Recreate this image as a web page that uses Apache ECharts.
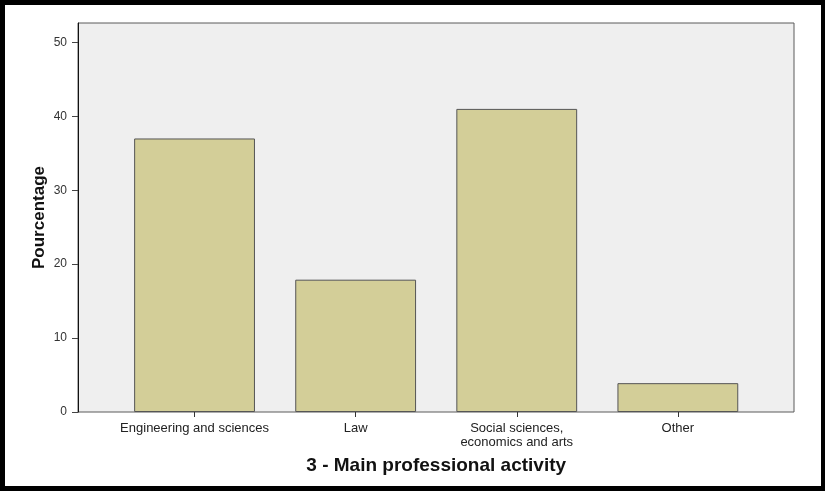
<!DOCTYPE html>
<html>
<head>
<meta charset="utf-8">
<script src="https://cdn.jsdelivr.net/npm/echarts@6/dist/echarts.min.js"></script>
<style>
html,body{margin:0;padding:0;background:#fff;}
#chart{width:825px;height:491px;}
</style>
</head>
<body>
<div id="chart"></div>
<script>
const categories = ['Engineering and sciences', 'Law', 'Social sciences,\neconomics and arts', 'Other'];
const values = [37, 17.9, 41, 3.9];
const yTicks = [0, 10, 20, 30, 40, 50];
const yMax = 52.62;
const xTitle = '3 - Main professional activity';
const yTitle = 'Pourcentage';

const chart = echarts.init(document.getElementById('chart'), null, {renderer: 'canvas'});
const font = '"Liberation Sans", Arial, sans-serif';
chart.setOption({
  animation: false,
  backgroundColor: '#ffffff',
  textStyle: {fontFamily: font},
  graphic: [{
    type: 'rect',
    shape: {x: 2.5, y: 2.5, width: 821, height: 486},
    style: {fill: 'none', stroke: '#000', lineWidth: 5},
    silent: true
  }],
  grid: [
    {left: 78, right: 31, top: 23, bottom: 79, show: true, backgroundColor: '#efefef', borderColor: '#5a5a5a', borderWidth: 1},
    {left: 114, right: 66.6, top: 23, bottom: 79}
  ],
  xAxis: [
    {gridIndex: 0, type: 'value', min: 0, max: 1, show: false},
    {
      gridIndex: 1, type: 'category', data: categories,
      axisLine: {show: false},
      axisTick: {show: true, alignWithLabel: true, length: 5, lineStyle: {color: '#333', width: 1}},
      axisLabel: {interval: 0, fontSize: 13, color: '#222', margin: 9, lineHeight: 14, fontFamily: font},
      name: xTitle, nameLocation: 'middle', nameGap: 44, nameMoveOverlap: false,
      nameTextStyle: {fontSize: 19, fontWeight: 'bold', color: '#111', fontFamily: font}
    }
  ],
  yAxis: [
    {
      gridIndex: 0, type: 'value', min: 0, max: yMax, interval: 10,
      axisLine: {show: true, lineStyle: {color: '#111', width: 1}},
      axisTick: {show: true, length: 6, customValues: yTicks, lineStyle: {color: '#444'}},
      axisLabel: {customValues: yTicks, fontSize: 12, color: '#333', margin: 11, fontFamily: font},
      splitLine: {show: false},
      name: yTitle, nameLocation: 'middle', nameGap: 30, nameRotate: 90, nameMoveOverlap: false,
      nameTextStyle: {fontSize: 17, fontWeight: 'bold', color: '#111', fontFamily: font}
    },
    {gridIndex: 1, type: 'value', min: 0, max: yMax, show: false, splitLine: {show: false}}
  ],
  series: [{
    type: 'bar', xAxisIndex: 1, yAxisIndex: 1,
    data: values, barWidth: '75%',
    itemStyle: {color: '#d3ce98', borderColor: '#555', borderWidth: 1}
  }]
});
</script>
</body>
</html>
